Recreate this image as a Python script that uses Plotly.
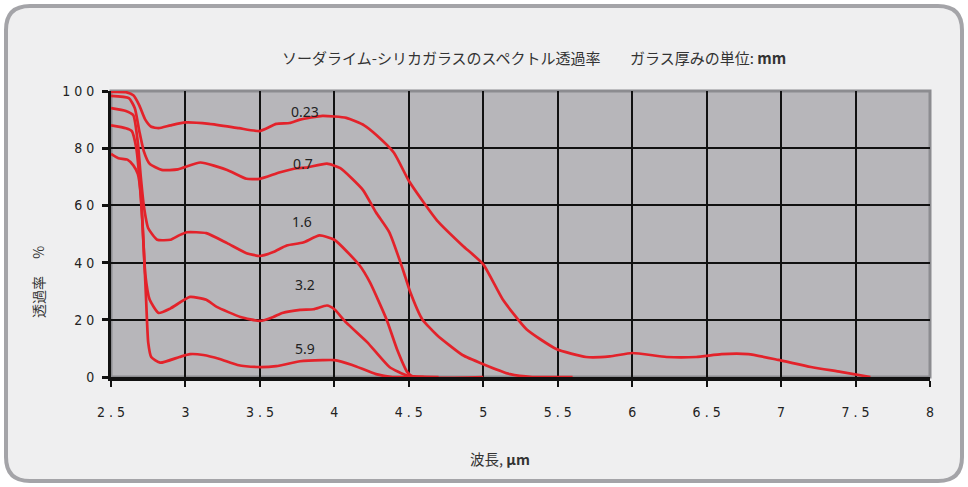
import plotly.graph_objects as go

# ---- data ----
x_023 = [2.5, 2.6, 2.65, 2.69, 2.73, 2.77, 2.82, 2.9, 3.0, 3.16, 3.36, 3.5, 3.61, 3.7, 3.77, 3.92, 4.08, 4.2, 4.28, 4.4, 4.5, 4.6, 4.69, 4.86, 5.0, 5.13, 5.29, 5.49, 5.69, 5.85, 6.0, 6.23, 6.43, 6.6, 6.78, 6.98, 7.2, 7.4, 7.6]
y_023 = [99.7, 99.6, 98.5, 95, 90, 87.5, 87, 88, 89, 88.5, 87, 86, 88.5, 88.8, 90, 91.3, 90.6, 88, 84.7, 78.4, 68.6, 61, 54.7, 46, 39.4, 27.2, 16.7, 9.8, 7, 7.2, 8.4, 7, 7, 8, 8, 6, 3.5, 1.8, 0]

x_07 = [2.5, 2.62, 2.66, 2.69, 2.72, 2.76, 2.84, 2.95, 3.1, 3.28, 3.41, 3.5, 3.63, 3.75, 3.81, 3.95, 4.04, 4.19, 4.28, 4.37, 4.46, 4.51, 4.59, 4.69, 4.86, 5.0, 5.18, 5.33, 5.6]
y_07 = [98.3, 97.5, 94, 86, 79, 74.5, 72.4, 72.6, 75, 72.4, 69.3, 69.3, 71.5, 73, 73.2, 74.6, 73, 65.5, 57.5, 50.5, 37.6, 29.6, 20.2, 14.6, 7.7, 4.5, 1, 0, 0]

x_16 = [2.5, 2.6, 2.65, 2.68, 2.7, 2.72, 2.75, 2.81, 2.9, 2.96, 3.01, 3.14, 3.28, 3.41, 3.5, 3.59, 3.68, 3.79, 3.9, 4.0, 4.17, 4.24, 4.35, 4.42, 4.49, 4.53, 5.0]
y_16 = [94, 93, 91.5, 82, 70, 60, 52, 48, 48, 49.6, 50.6, 50.3, 46.8, 43.3, 42.3, 43.7, 46, 47, 49.5, 48, 39, 33, 20.2, 9.8, 1.7, 0, 0]

x_32 = [2.5, 2.6, 2.64, 2.67, 2.69, 2.71, 2.73, 2.76, 2.82, 2.9, 3.03, 3.14, 3.21, 3.37, 3.5, 3.59, 3.65, 3.77, 3.86, 3.95, 4.0, 4.08, 4.22, 4.37, 4.49, 4.7]
y_32 = [88, 87, 86, 80, 70, 55, 36, 27, 22.4, 24, 28, 27, 24.5, 21, 19.6, 21, 22.4, 23.5, 23.7, 25, 23.7, 19, 12.2, 3.5, 0.5, 0]

x_59 = [2.5, 2.55, 2.61, 2.65, 2.68, 2.7, 2.72, 2.735, 2.75, 2.77, 2.83, 2.96, 3.03, 3.12, 3.23, 3.35, 3.48, 3.61, 3.77, 3.92, 4.0, 4.12, 4.28, 4.39, 4.6]
y_59 = [78, 76.5, 76, 74, 71, 64, 45, 28, 12, 7, 5, 7, 8, 7.7, 6.3, 4.2, 3.5, 3.8, 5.5, 5.9, 5.9, 4.2, 1, 0, 0]

series = [("0.23", x_023, y_023), ("0.7", x_07, y_07), ("1.6", x_16, y_16),
          ("3.2", x_32, y_32), ("5.9", x_59, y_59)]

label_text = ["0.23", "0.7", "1.6", "3.2", "5.9"]
label_x = [3.80, 3.79, 3.78, 3.80, 3.80]
label_y = [93.0, 74.5, 54.2, 32.2, 9.8]

x_ticks = [2.5, 3, 3.5, 4, 4.5, 5, 5.5, 6, 6.5, 7, 7.5, 8]
x_ticktext = ["2 . 5", "3", "3 . 5", "4", "4 . 5", "5", "5 . 5", "6", "6 . 5", "7", "7 . 5", "8"]
y_ticks = [0, 20, 40, 60, 80, 100]
y_ticktext = ["0", "2 0", "4 0", "6 0", "8 0", "1 0 0"]

W, H = 968, 487
L, R, T, B = 111, 38, 91, 110
PW, PH = W - L - R, H - T - B

def px(x):
    return (x - L) / PW

def py(y):
    return (H - B - y) / PH

fig = go.Figure()
for name, xs, ys in series:
    fig.add_trace(go.Scatter(x=xs, y=ys, mode="lines", name=name,
                             line=dict(color="#e3222a", width=2.7, shape="spline", smoothing=0.5),
                             cliponaxis=False, showlegend=False))

# rounded frame
x0, x1, y0, y1, r = 6, 962, 6, 481, 24
path = (f"M {px(x0+r)},{py(y0)} L {px(x1-r)},{py(y0)} Q {px(x1)},{py(y0)} {px(x1)},{py(y0+r)} "
        f"L {px(x1)},{py(y1-r)} Q {px(x1)},{py(y1)} {px(x1-r)},{py(y1)} "
        f"L {px(x0+r)},{py(y1)} Q {px(x0)},{py(y1)} {px(x0)},{py(y1-r)} "
        f"L {px(x0)},{py(y0+r)} Q {px(x0)},{py(y0)} {px(x0+r)},{py(y0)} Z")
shapes = [
    dict(type="path", path=path, xref="paper", yref="paper", layer="below",
         fillcolor="#efeff0", line=dict(color="#a4a4a8", width=4)),
    dict(type="rect", xref="paper", yref="paper", x0=0, x1=1, y0=0, y1=1, layer="below",
         fillcolor="#b7b6ba", line=dict(color="#8c8c90", width=3)),
]

annotations = []
for t, lx, ly in zip(label_text, label_x, label_y):
    annotations.append(dict(x=lx, y=ly, xref="x", yref="y", text=t, showarrow=False,
                            xanchor="center", yanchor="middle",
                            font=dict(family="Noto Sans", size=14, color="#222")))
annotations += [
    dict(x=px(441), y=py(58), xref="paper", yref="paper", showarrow=False,
         xanchor="center", yanchor="middle",
         text="ソーダライム-シリカガラスのスペクトル透過率",
         font=dict(family="Noto Sans CJK JP", size=15, color="#333")),
    dict(x=px(628), y=py(58), xref="paper", yref="paper", showarrow=False,
         xanchor="left", yanchor="middle",
         text="ガラス厚みの単位: <b>mm</b>",
         font=dict(family="Noto Sans CJK JP", size=15, color="#333")),
    dict(x=px(38), y=py(282), xref="paper", yref="paper", showarrow=False, textangle=-90,
         xanchor="center", yanchor="middle",
         text="透過率　 %", font=dict(family="Noto Sans CJK JP", size=14, color="#333")),
    dict(x=px(500), y=py(458), xref="paper", yref="paper", showarrow=False,
         xanchor="center", yanchor="middle",
         text="波長, <b>μm</b>", font=dict(family="Noto Sans CJK JP", size=14.5, color="#333")),
]

fig.update_layout(
    width=W, height=H, margin=dict(l=L, r=R, t=T, b=B),
    paper_bgcolor="white", plot_bgcolor="rgba(0,0,0,0)",
    shapes=shapes, annotations=annotations,
    xaxis=dict(range=[2.5, 8], tickvals=x_ticks, ticktext=x_ticktext,
               showgrid=True, gridcolor="#111", gridwidth=2,
               showline=True, linecolor="#111", linewidth=4,
               ticks="outside", ticklen=6, tickwidth=2, tickcolor="#111",
               ticklabelstandoff=13, zeroline=False, layer="below traces",
               tickfont=dict(family="DejaVu Sans Condensed", size=14, color="#222")),
    yaxis=dict(range=[0, 100], tickvals=y_ticks, ticktext=y_ticktext,
               showgrid=True, gridcolor="#111", gridwidth=2,
               showline=True, linecolor="#111", linewidth=3,
               ticks="outside", ticklen=6, tickwidth=3, tickcolor="#111",
               ticklabelstandoff=5, zeroline=False, layer="below traces",
               tickfont=dict(family="DejaVu Sans Condensed", size=14, color="#222")),
)

fig.write_html("out.html", config={"displayModeBar": False},
               post_script="document.body.style.margin='0px';")
